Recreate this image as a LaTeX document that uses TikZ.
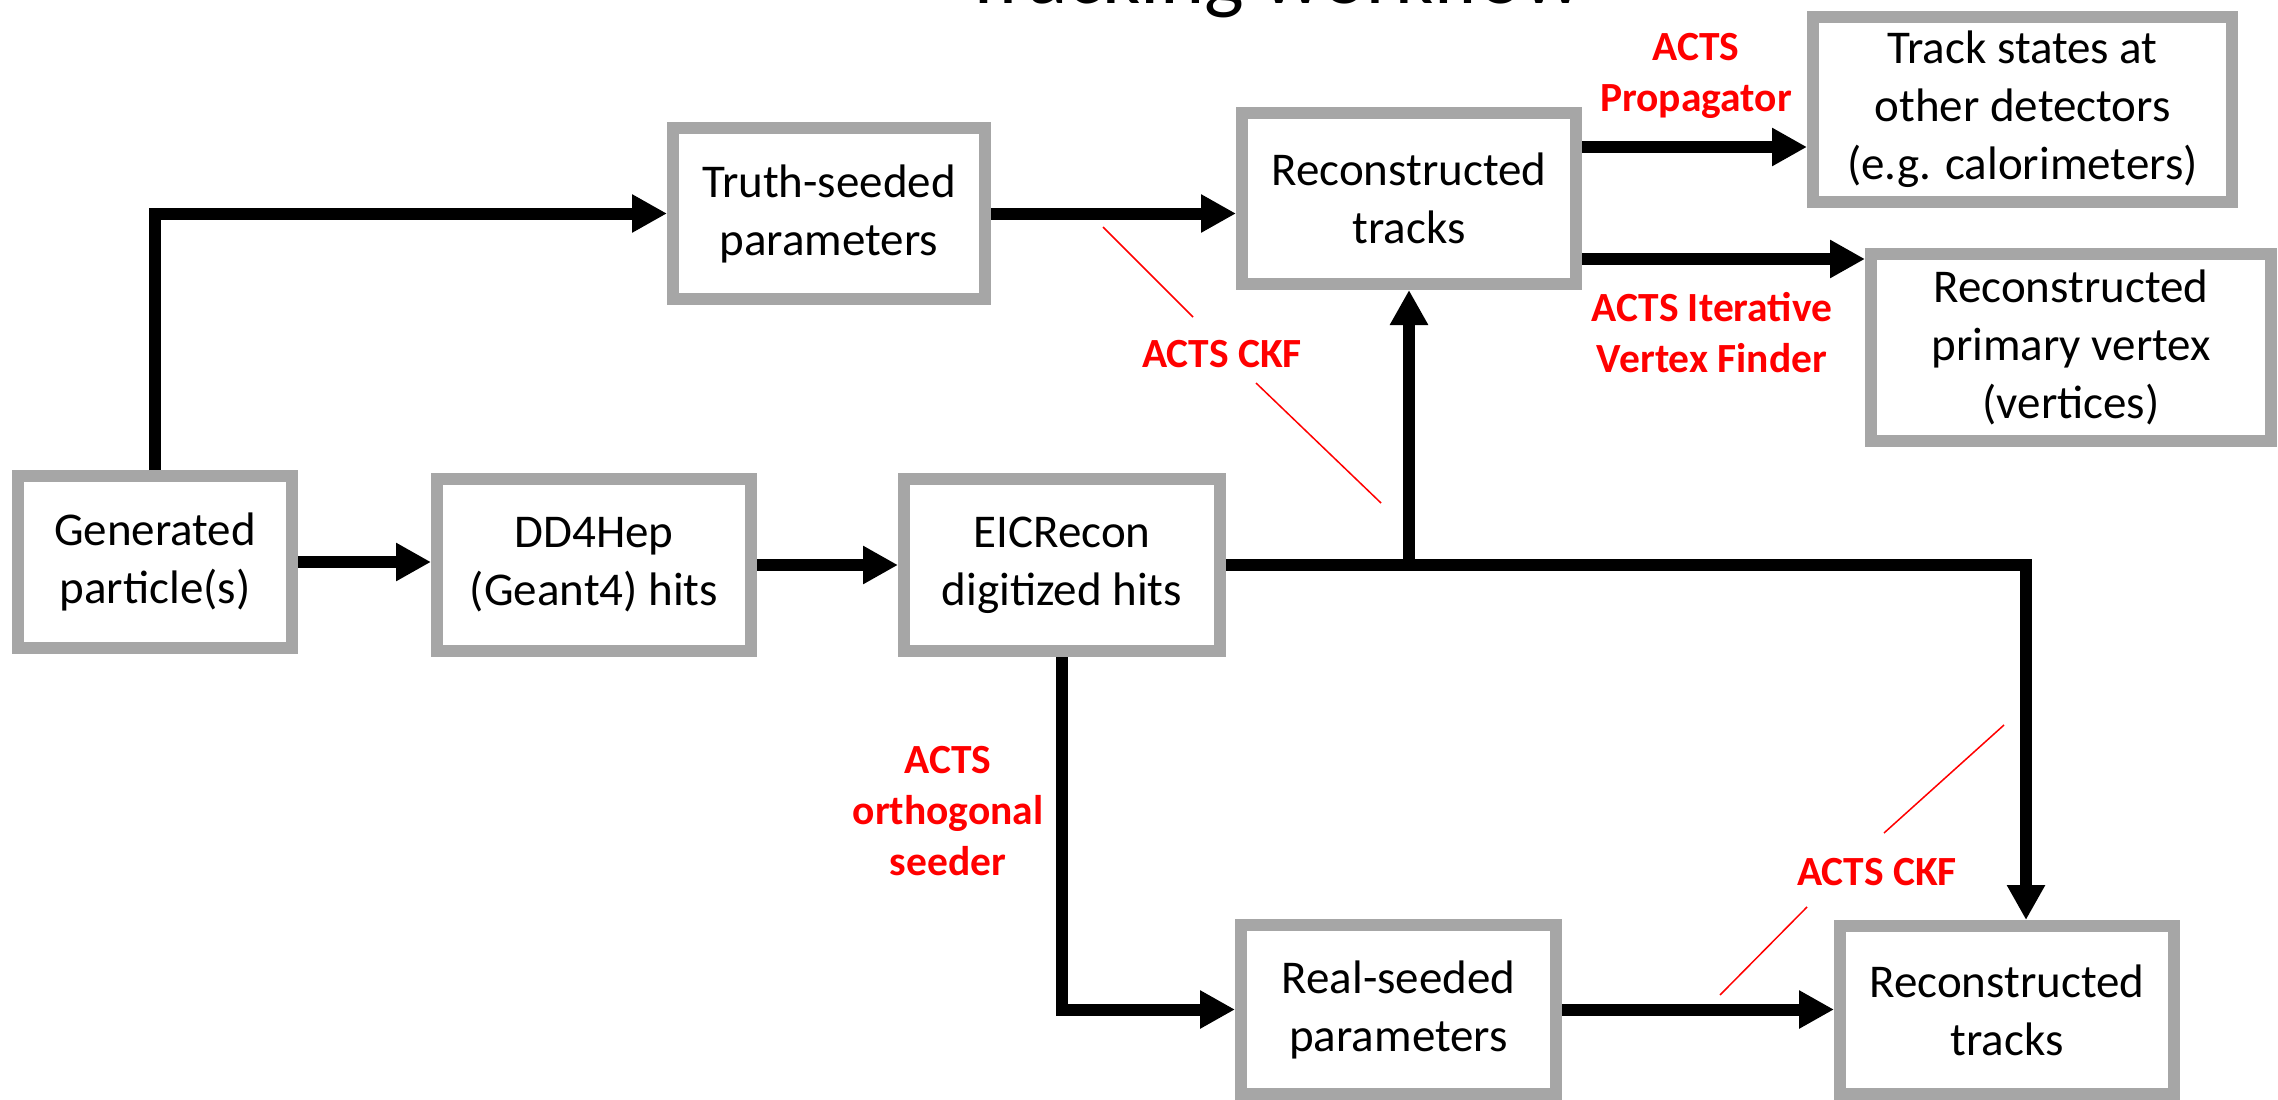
\documentclass[tikz,border=0pt]{standalone}
\usepackage{fontspec}
\setmainfont{Carlito}
\usetikzlibrary{arrows.meta}
\definecolor{boxgray}{HTML}{A6A6A6}
\definecolor{lblred}{HTML}{FF0000}
\begin{document}
\begin{tikzpicture}[x=1pt,y=-1pt,
  box/.style={draw=boxgray, line width=12pt, fill=white, inner sep=0pt, outer sep=6pt, align=center, font=\fontsize{47}{58}\selectfont},
  arr/.style={line width=12pt, -{Triangle[length=35pt,width=36pt]}},
  lbl/.style={text=lblred, align=center, font=\fontsize{41.5}{51}\selectfont\bfseries, inner sep=0pt},
  cut/.style={draw=lblred, line width=1.5pt}]
\useasboundingbox (0,0) rectangle (2278,1100);
\clip (0,0) rectangle (2278,1100);

\node[anchor=base, font=\fontsize{84}{100}\selectfont, inner sep=0pt] (title) at (1273,4) {Tracking workflow};

\node[box, minimum width=274pt, minimum height=172pt] (gen) at (155,562) {Generated\\particle(s)};
\node[box, minimum width=314pt, minimum height=172pt] (dd4) at (594,565) {DD4Hep\\(Geant4) hits};
\node[box, minimum width=316pt, minimum height=172pt] (eic) at (1062,565) {EICRecon\\digitized hits};
\node[box, minimum width=312pt, minimum height=171pt] (truth) at (829,213.5) {Truth-seeded\\parameters};
\node[box, minimum width=334pt, minimum height=171pt] (recoT) at (1409,198.5) {Reconstructed\\tracks};
\node[box, minimum width=419pt, minimum height=185pt] (states) at (2022.5,109.5) {Track states at\\other detectors\\(e.g. calorimeters)};
\node[box, minimum width=400pt, minimum height=187pt] (vertex) at (2071,347.5) {Reconstructed\\primary vertex\\(vertices)};
\node[box, minimum width=315pt, minimum height=169pt] (real) at (1398.5,1009.5) {Real-seeded\\parameters};
\node[box, minimum width=334pt, minimum height=168pt] (recoB) at (2007,1010) {Reconstructed\\tracks};

\draw[arr] (gen.north) |- (truth.west);
\draw[arr] (gen.east) -- (gen.east -| dd4.west);
\draw[arr] (dd4.east) -- (dd4.east -| eic.west);
\draw[arr] (truth.east) -- (truth.east -| recoT.west);
\coordinate (pA) at ([yshift=51.5pt]recoT.east);
\draw[arr] (pA) -- (pA -| states.west);
\coordinate (pB) at ([yshift=-60.5pt]recoT.east);
\draw[arr] (pB) -- (pB -| vertex.west);
\coordinate (down) at ([xshift=19pt]recoB.north);
\draw[arr] (eic.east) -| (down);
\draw[arr] (eic.east -| recoT.south) -- (recoT.south);
\draw[arr] (eic.south) |- (real.west);
\draw[arr] (real.east) -- (real.east -| recoB.west);

\node[lbl, anchor=base] (lprop) at (1696,111) {ACTS\\Propagator};
\node[lbl, anchor=base] (lvert) at (1712,372) {ACTS Iterative\\Vertex Finder};
\node[lbl, anchor=base] (lckfT) at (1222,367) {ACTS CKF};
\node[lbl, anchor=base] (lorth) at (948,875) {ACTS\\orthogonal\\seeder};
\node[lbl, anchor=base] (lckfB) at (1877,885) {ACTS CKF};

\draw[cut] (1103,227) -- (1193,317);
\draw[cut] (1256,383) -- (1381,503);
\draw[cut] (2004,725) -- (1884,833);
\draw[cut] (1807,907) -- (1720,995);
\end{tikzpicture}
\end{document}
